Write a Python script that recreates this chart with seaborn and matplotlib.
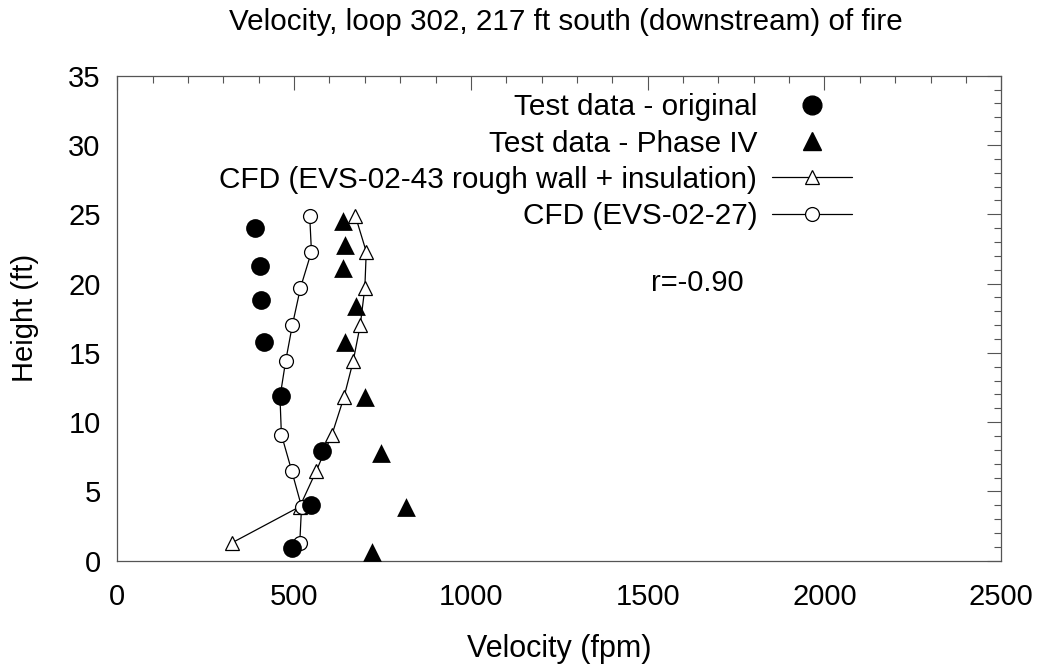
import matplotlib
matplotlib.use("Agg")
import matplotlib.pyplot as plt
import seaborn as sns
import pandas as pd
from matplotlib.lines import Line2D
from matplotlib.ticker import MultipleLocator

# ---- data ----
orig_vel = [389, 403, 406, 414, 464, 580, 547, 493]
orig_h = [24.0, 21.3, 18.8, 15.8, 11.9, 7.9, 4.0, 0.9]

p4_vel = [637, 645, 637, 676, 645, 700, 747, 816, 719]
p4_h = [24.5, 22.8, 21.1, 18.4, 15.8, 11.8, 7.8, 3.9, 0.6]

cfd43_vel = [673, 704, 700, 687, 667, 641, 607, 563, 516, 325]
cfd43_h = [24.9, 22.3, 19.7, 17.0, 14.4, 11.8, 9.1, 6.5, 3.9, 1.3]

cfd27_vel = [544, 549, 518, 495, 476, 460, 464, 493, 521, 516]
cfd27_h = [24.9, 22.3, 19.7, 17.0, 14.4, 11.8, 9.1, 6.5, 3.9, 1.3]

labels = ["Test data - original", "Test data - Phase IV",
          "CFD (EVS-02-43 rough wall + insulation)", "CFD (EVS-02-27)"]

sns.set_theme(style="white")
plt.rcParams['font.family'] = ['Liberation Sans', 'DejaVu Sans']
plt.rcParams['text.color'] = 'black'
plt.rcParams['axes.labelcolor'] = 'black'

fig = plt.figure(figsize=(10.43, 6.69), dpi=100)
ax = fig.add_axes([0.1125, 0.1619, 0.960 - 0.1125, 0.8868 - 0.1619])

d43 = pd.DataFrame({"v": cfd43_vel, "h": cfd43_h})
d27 = pd.DataFrame({"v": cfd27_vel, "h": cfd27_h})
do = pd.DataFrame({"v": orig_vel, "h": orig_h})
dp = pd.DataFrame({"v": p4_vel, "h": p4_h})

sns.lineplot(data=d43, x="v", y="h", sort=False, estimator=None, ax=ax,
             color="black", lw=0.9, marker="^", markersize=10,
             markerfacecolor="white", markeredgecolor="black", markeredgewidth=0.9,
             legend=False, zorder=2)
sns.lineplot(data=d27, x="v", y="h", sort=False, estimator=None, ax=ax,
             color="black", lw=0.9, marker="o", markersize=10,
             markerfacecolor="white", markeredgecolor="black", markeredgewidth=0.9,
             legend=False, zorder=2)
sns.scatterplot(data=do, x="v", y="h", ax=ax, color="black", marker="o",
                s=13.5**2, edgecolor="black", linewidth=0, legend=False, zorder=3)
sns.scatterplot(data=dp, x="v", y="h", ax=ax, color="black", marker="^",
                s=13.5**2, edgecolor="black", linewidth=0, legend=False, zorder=3)

ax.set_xlim(0, 2500)
ax.set_ylim(0, 35)
ax.xaxis.set_major_locator(MultipleLocator(500))
ax.xaxis.set_minor_locator(MultipleLocator(100))
ax.yaxis.set_major_locator(MultipleLocator(5))
ax.yaxis.set_minor_locator(MultipleLocator(1))
ax.tick_params(which="both", direction="in", top=True, right=True,
               color="#555555", width=0.8, labelsize=21, labelcolor="black")
ax.tick_params(which="major", length=10)
ax.tick_params(which="minor", length=5)
ax.tick_params(axis="x", which="major", pad=16)
ax.tick_params(axis="y", which="major", pad=12)
for s in ax.spines.values():
    s.set_color("#555555")
    s.set_linewidth(0.9)

ax.set_xlabel("Velocity (fpm)", fontsize=22, va="center")
ax.xaxis.set_label_coords(0.5, -0.182)
ax.set_ylabel("Height (ft)", fontsize=21, va="center")
ax.yaxis.set_label_coords(-0.1044, 0.5)
fig.text(566 / 1043, 1 - 22 / 669, "Velocity, loop 302, 217 ft south (downstream) of fire",
         ha="center", va="center", fontsize=21.3)

ax.text(0.656, 0.5726, "r=-0.90", transform=ax.transAxes, fontsize=21,
        ha="center", va="center")

handles = [
    Line2D([], [], ls="none", marker="o", color="black", markersize=13.5),
    Line2D([], [], ls="none", marker="^", color="black", markersize=13.5),
    Line2D([], [], color="black", lw=0.9, marker="^", markersize=10,
           markerfacecolor="white", markeredgecolor="black", markeredgewidth=0.9),
    Line2D([], [], color="black", lw=0.9, marker="o", markersize=10,
           markerfacecolor="white", markeredgecolor="black", markeredgewidth=0.9),
]
leg = ax.legend(handles, labels, loc="upper right", bbox_to_anchor=(0.8315, 0.964),
                frameon=False, markerfirst=False, fontsize=21.4, handlelength=2.7,
                handletextpad=0.5, labelspacing=0.28, borderpad=0, borderaxespad=0)

fig.savefig("out.png", dpi=100)
